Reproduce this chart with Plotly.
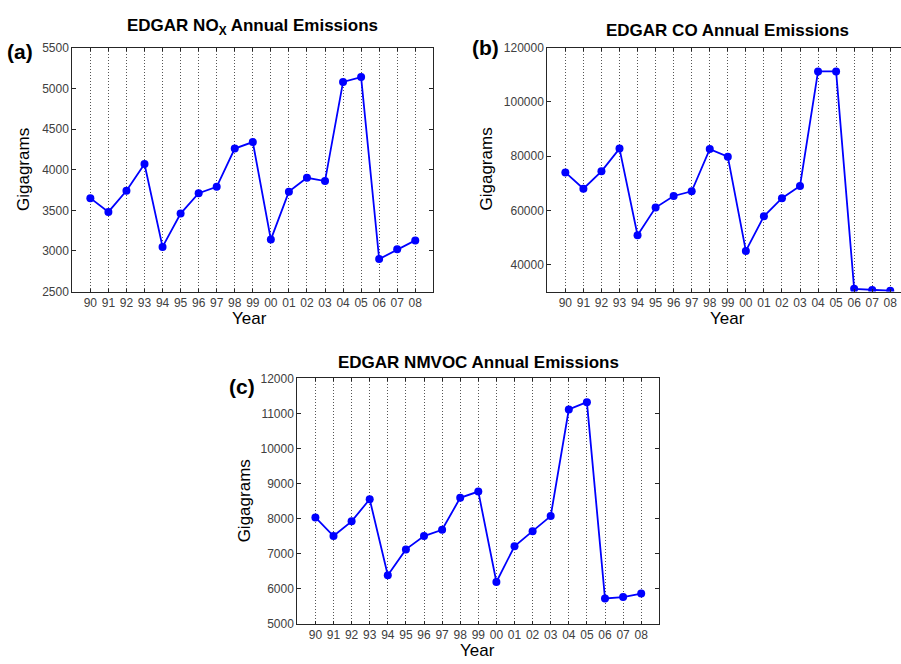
import plotly.graph_objects as go

years = ["90", "91", "92", "93", "94", "95", "96", "97", "98", "99",
         "00", "01", "02", "03", "04", "05", "06", "07", "08"]
x_idx = list(range(1, len(years) + 1))

nox = [3650, 3480, 3740, 4070, 3050, 3460, 3710, 3790, 4260, 4340,
       3140, 3730, 3900, 3860, 5080, 5140, 2900, 3020, 3130]
co = [74000, 68000, 74400, 82800, 50800, 61000, 65300, 67000, 82600, 79800,
      45000, 57800, 64500, 69000, 111300, 111300, 31000, 30600, 30300]
nmvoc = [8030, 7500, 7920, 8550, 6380, 7120, 7500, 7680, 8590, 8770,
         6190, 7210, 7640, 8070, 11110, 11320, 5720, 5760, 5860]

W, H = 901, 664
FONT = "Liberation Sans, Arial, sans-serif"
BLUE = "#0000FF"
AXC = "#262626"
TICKC = "#404040"

def px(x):
    return x / W

def py(y):
    return 1 - y / H

fig = go.Figure()

series = [(nox, "x", "y"), (co, "x2", "y2"), (nmvoc, "x3", "y3")]
for vals, xa, ya in series:
    fig.add_trace(go.Scatter(
        x=x_idx, y=vals, xaxis=xa, yaxis=ya, mode="lines+markers",
        line=dict(color=BLUE, width=1.8),
        marker=dict(color=BLUE, size=8, symbol="circle"),
        showlegend=False, hoverinfo="x+y"))

def xax(domain, rng, mirror):
    return dict(domain=domain, range=rng, tickmode="array", tickvals=x_idx,
                ticktext=years, showgrid=True, griddash="1px,2px", gridcolor="#555555",
                gridwidth=1, zeroline=False, showline=True, linecolor=AXC,
                linewidth=1, mirror=mirror, ticks="inside", ticklen=3,
                tickcolor=AXC, tickfont=dict(family=FONT, size=12, color=TICKC))

def yax(domain, rng, dtick, mirror):
    return dict(domain=domain, range=rng, dtick=dtick, tick0=0, tickformat="d",
                showgrid=False, zeroline=False, showline=True, linecolor=AXC,
                linewidth=1, mirror=mirror, ticks="inside", ticklen=4,
                tickcolor=AXC, tickfont=dict(family=FONT, size=12, color=TICKC))

ya_dom = [py(290.7), py(41.7)]
yc_dom = [py(630.0), py(379.3)]

fig.update_layout(
    width=W, height=H, autosize=False,
    margin=dict(l=0, r=0, t=0, b=0, pad=0),
    paper_bgcolor="white", plot_bgcolor="white",
    xaxis=xax([px(72.3), px(433.3)], [0, 20], "ticks"),
    yaxis=yax(ya_dom, [2500, 5500], 500, "ticks"),
    xaxis2=xax([px(547.3), 1.0], [0, (W - 547.3) / 18.05], "ticks"),
    yaxis2=yax(ya_dom, [30000, 120000], 20000, False),
    xaxis3=xax([px(297.3), px(659.3)], [0, 20], "ticks"),
    yaxis3=yax(yc_dom, [5000, 12000], 1000, "ticks"),
)
fig.layout.xaxis.anchor = "y"
fig.layout.yaxis.anchor = "x"
fig.layout.xaxis2.anchor = "y2"
fig.layout.yaxis2.anchor = "x2"
fig.layout.xaxis3.anchor = "y3"
fig.layout.yaxis3.anchor = "x3"

annots = []
titles = [("EDGAR NO<sub>X</sub> Annual Emissions", 252.5, 20),
          ("EDGAR CO Annual Emissions", 727, 24),
          ("EDGAR NMVOC Annual Emissions", 478, 363)]
for t, x, y in titles:
    annots.append(dict(text="<b>%s</b>" % t, x=px(x), y=py(y), xref="paper", yref="paper",
                       xanchor="center", yanchor="middle", showarrow=False,
                       font=dict(family=FONT, size=17, color="black")))
for t, x, y in [("(a)", 20, 45), ("(b)", 485, 41.5), ("(c)", 242, 388)]:
    annots.append(dict(text="<b>%s</b>" % t, x=px(x), y=py(y), xref="paper", yref="paper",
                       xanchor="center", yanchor="middle", showarrow=False,
                       font=dict(family=FONT, size=21, color="black")))
for x, y in [(23.5, 166), (486, 166), (244, 505)]:
    annots.append(dict(text="Gigagrams", x=px(x), y=py(y), xref="paper", yref="paper",
                       xanchor="center", yanchor="middle", showarrow=False, textangle=-90,
                       font=dict(family=FONT, size=17, color="black")))
for x, y in [(250, 318), (727, 318), (477, 657)]:
    annots.append(dict(text="Year", x=px(x), y=py(y), xref="paper", yref="paper",
                       xanchor="center", yanchor="middle", showarrow=False,
                       font=dict(family=FONT, size=17, color="black")))
fig.update_layout(annotations=annots)

fig.write_html(
    "out.html",
    config={"responsive": False, "displayModeBar": False},
    post_script="document.body.style.margin='0';document.body.style.padding='0';"
                "document.body.style.overflow='hidden';",
)
